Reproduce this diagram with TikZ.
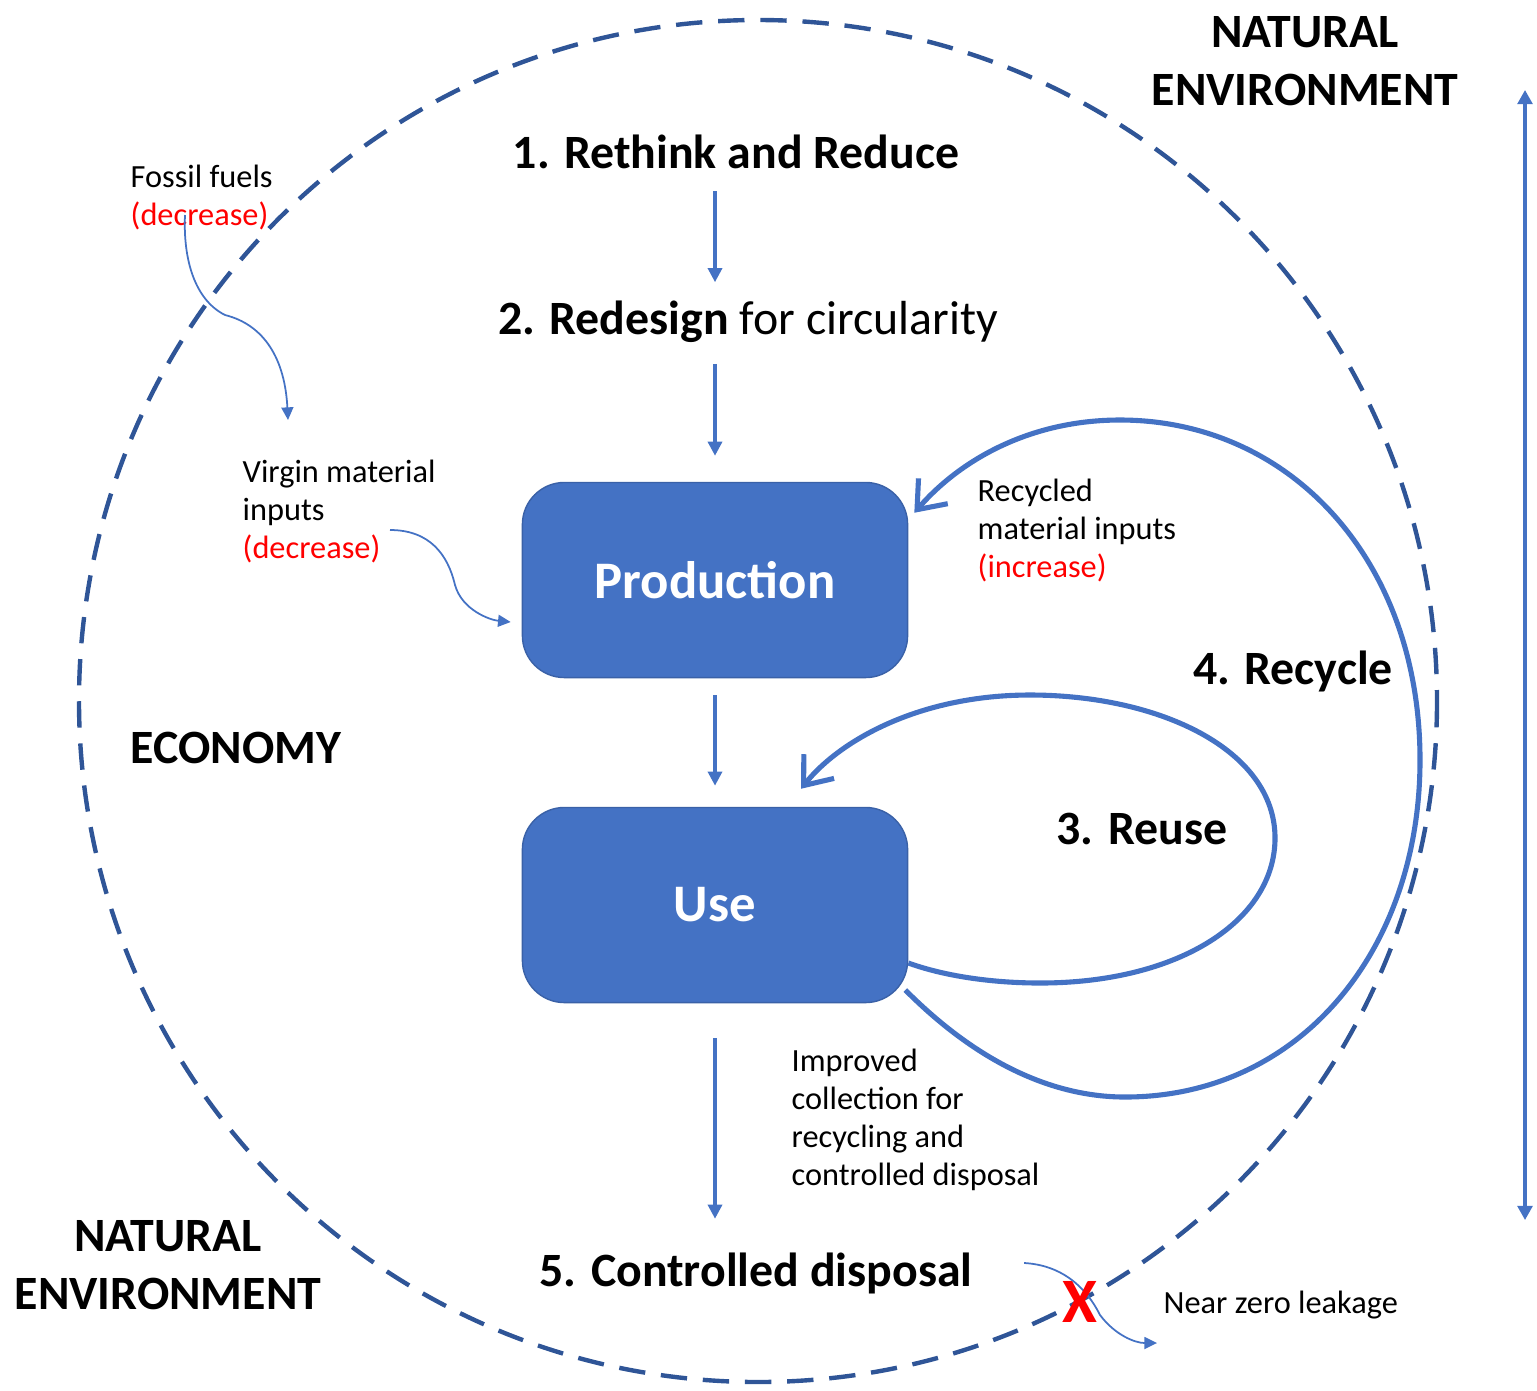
\documentclass[tikz,border=0pt]{standalone}
\usepackage{fontspec}
\setmainfont{Carlito}
\usetikzlibrary{shapes,arrows.meta,positioning,calc}
\definecolor{boxblue}{HTML}{4472C4}
\definecolor{ringblue}{HTML}{2F5597}
\definecolor{lblred}{HTML}{FF0000}
\tikzset{
  stage/.style={font=\fontsize{13.6}{16.5}\selectfont\bfseries, inner sep=2pt},
  note/.style={font=\fontsize{9.2}{10.8}\selectfont, align=left, inner sep=0pt},
  block/.style={rounded corners=0.42cm, fill=boxblue, draw=boxblue!85!black, minimum width=3.85cm,
                minimum height=1.95cm, text=white, font=\fontsize{15}{18}\selectfont\bfseries},
  flow/.style={draw=boxblue, line width=0.9pt, -{Triangle[length=4pt,width=4pt]}},
  curvy/.style={draw=boxblue, line width=0.5pt, -{Triangle[length=3.6pt,width=3.4pt]}},
  backloop/.style={draw=boxblue, line width=1.45pt, -{Straight Barb[length=7pt,width=11pt]}},
  ring/.style={draw=ringblue, line width=1.25pt, dash pattern=on 7.5pt off 4.5pt},
}
\begin{document}
\begin{tikzpicture}[x=0.01cm, y=-0.01cm]
\useasboundingbox (0,0) rectangle (1537,1390);
\draw[ring] (758,701) ellipse [x radius=679, y radius=681];

\node[block] (prod) at (715,580) {Production};
\node[block] (use) at (715,905) {Use};

\node[stage, anchor=base] (rethink) at (736,168) {1. Rethink and Reduce};
\node[stage, anchor=base] (redesign) at (748,334) {2. Redesign \mdseries for circularity};
\node[stage, anchor=base] (reuse) at (1142,844) {3. Reuse};
\node[stage, anchor=base] (recycle) at (1293,684) {4. Recycle};
\node[stage, anchor=base] (disposal) at (756,1286) {5. Controlled disposal};
\node[stage, anchor=base west, inner sep=0] (economy) at (130,763) {ECONOMY};
\node[stage, align=center, anchor=north, inner sep=0] (envtop) at (1305,16) {NATURAL\\ENVIRONMENT};
\node[stage, align=center, anchor=north, inner sep=0] (envbot) at (168,1220) {NATURAL\\ENVIRONMENT};

\node[note, anchor=north west] (fossil) at (130,164) {Fossil fuels\\\textcolor{lblred}{(decrease)}};
\node[note, anchor=north west] (virgin) at (242,459) {Virgin material\\inputs\\\textcolor{lblred}{(decrease)}};
\node[note, anchor=north west] (recycled) at (977,478) {Recycled\\material inputs\\\textcolor{lblred}{(increase)}};
\node[note, anchor=north west] (collect) at (791,1048) {Improved\\collection for\\recycling and\\controlled disposal};
\node[note, anchor=west] (leak) at (1163,1305) {Near zero leakage};

\draw[flow, shorten <=4.3pt, shorten >=3pt] (rethink.south -| prod.north) -- (redesign.north -| prod.north);
\draw[flow, shorten <=4pt, shorten >=7.4pt] (redesign.south -| prod.north) -- (prod.north);
\draw[flow, shorten <=4.8pt, shorten >=6pt] (prod) -- (use);
\draw[flow, shorten <=10pt, shorten >=7.4pt] (use.south) -- (disposal.north -| use.south);

\coordinate (scaletop) at (1525,90);
\coordinate (scalebot) at (1525,1220);
\draw[draw=boxblue, line width=0.9pt, {Triangle[length=4pt,width=4.2pt]}-{Triangle[length=4pt,width=4.2pt]}] (scaletop) -- (scalebot);

\draw[backloop] ($(use.east)+(-3,85)$) .. controls (975,1060) and (1050,1097) .. (1125,1097)
      .. controls (1300,1097) and (1420,950) .. (1420,760)
      .. controls (1420,560) and (1290,420) .. (1120,420)
      .. controls (1030,420) and (960,460) .. ($(prod.north east)+(6,31)$);
\draw[backloop] ($(use.east)+(0,58)$) .. controls (950,978) and (1000,983) .. (1040,983)
      .. controls (1180,983) and (1275,920) .. (1275,838)
      .. controls (1275,750) and (1160,695) .. (1030,695)
      .. controls (920,695) and (840,740) .. ($(use.north)+(86,-18)$);

\draw[curvy] ($(fossil.north west)+(55,51)$) .. controls (183,260) and (195,300) .. (225,315)
      .. controls (265,325) and (285,360) .. ($(virgin.north west)+(46,-39)$);
\draw[curvy] ($(virgin.north west)+(148,71)$) .. controls (430,530) and (448,555) .. (455,585)
      .. controls (462,610) and (490,620) .. ($(prod.west)+(-11,42)$);
\draw[curvy] ($(disposal.east)+(44,-10)$) .. controls (1060,1265) and (1085,1285) .. (1100,1315)
      .. controls (1115,1335) and (1135,1343) .. ($(leak.west)+(-6,38)$);
\node[text=lblred, font=\fontsize{18}{20}\selectfont\bfseries, inner sep=0] (cross) at (1080,1302) {X};
\end{tikzpicture}
\end{document}
